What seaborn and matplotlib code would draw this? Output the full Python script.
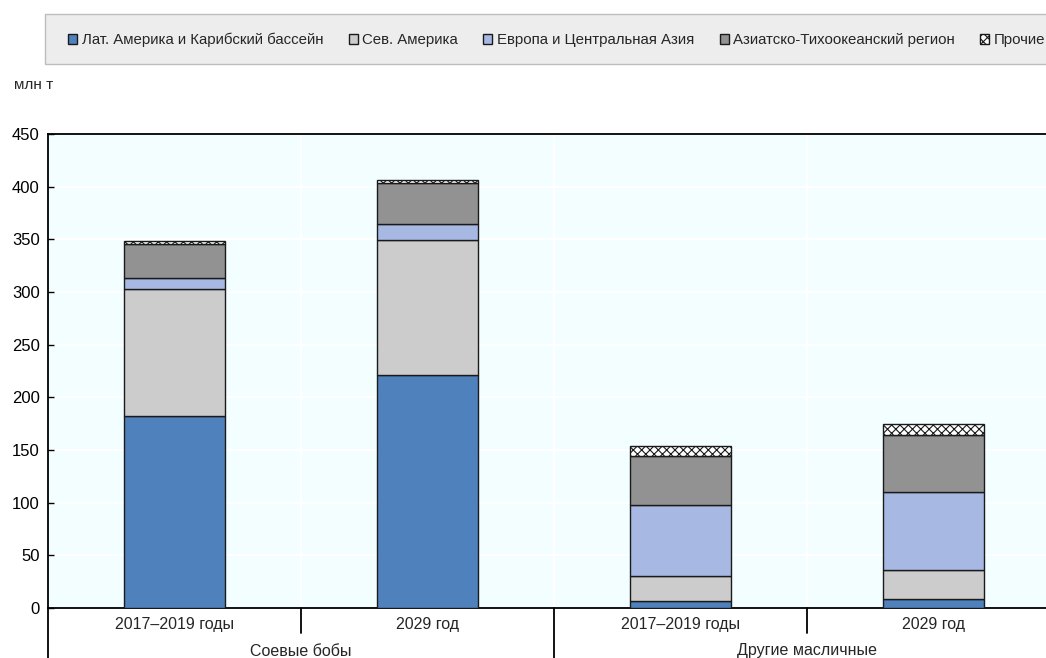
import matplotlib
matplotlib.use("Agg")
import matplotlib.pyplot as plt
import matplotlib.patches as mpatches
import matplotlib.transforms as mtransforms
import pandas as pd
import seaborn as sns

groups = ["Соевые бобы", "Соевые бобы", "Другие масличные", "Другие масличные"]
periods = ["2017–2019 годы", "2029 год", "2017–2019 годы", "2029 год"]
keys = ["soy_base", "soy_2029", "oth_base", "oth_2029"]

series_names = [
    "Лат. Америка и Карибский бассейн",
    "Сев. Америка",
    "Европа и Центральная Азия",
    "Азиатско-Тихоокеанский регион",
    "Прочие",
]
latam = [182.3, 221.2, 6.6, 8.5]
north_america = [120.6, 128.2, 23.8, 27.5]
europe_ca = [10.4, 15.2, 67.4, 74.0]
asia_pacific = [32.3, 38.9, 46.5, 54.2]
other = [2.8, 2.8, 9.5, 10.5]

values = [latam, north_america, europe_ca, asia_pacific, other]
colors = ["#4F81BD", "#CCCCCC", "#A7B9E3", "#929292", "#FFFFFF"]
hatches = [None, None, None, None, "xxxx"]

sns.set_style("white")
plt.rcParams["font.family"] = ["Liberation Sans Narrow", "Liberation Sans", "DejaVu Sans"]
plt.rcParams["hatch.linewidth"] = 0.8

fig = plt.figure(figsize=(10.46, 6.58), dpi=100)
W, H = 1046, 658
ax = fig.add_axes([48 / W, 50 / H, 1012 / W, 474 / H])
ax.set_facecolor("#F2FEFF")

bottom = [0.0] * 4
for name, vals, col, hat in zip(series_names, values, colors, hatches):
    df = pd.DataFrame({"key": keys, "value": vals})
    sns.barplot(data=df, x="key", y="value", order=keys, color=col,
                bottom=bottom, width=0.4, edgecolor="#1a1a1a", linewidth=1.0,
                hatch=hat, saturation=1, ax=ax, zorder=3)
    bottom = [b + v for b, v in zip(bottom, vals)]

ax.set_xlim(-0.5, 3.5)
ax.set_ylim(0, 450)
ax.set_yticks(range(0, 451, 50))
ax.set_xticks([])
ax.set_xlabel("")
ax.set_ylabel("")
ax.tick_params(axis="y", direction="in", length=4, width=1, labelsize=12,
               pad=6, colors="black", left=True)
ax.grid(axis="y", color="white", linewidth=1.5, zorder=0)
for xb in [0.5, 1.5, 2.5]:
    ax.axvline(xb, color="white", linewidth=1.5, zorder=0)
for side in ["left", "bottom", "top"]:
    ax.spines[side].set_visible(True)
    ax.spines[side].set_color("black")
    ax.spines[side].set_linewidth(1.3)
ax.spines["right"].set_visible(False)

# two-level category axis below the plot
trans = mtransforms.blended_transform_factory(ax.transData, ax.transAxes)
ax_h = 474.0
for xb in [0.5, 2.5]:
    ax.plot([xb, xb], [0, -25 / ax_h], color="black", lw=1.3, transform=trans, clip_on=False)
for xb in [-0.5, 1.5, 3.5]:
    ax.plot([xb, xb], [0, -52 / ax_h], color="black", lw=1.3, transform=trans, clip_on=False)
for i, p in enumerate(periods):
    ax.text(i, -17 / ax_h, p, transform=trans, ha="center", va="center", fontsize=11.5)
for gx, g in [(0.5, groups[0]), (2.5, groups[2])]:
    ax.text(gx, -43 / ax_h, g, transform=trans, ha="center", va="center", fontsize=11.5)

fig.text(14 / W, 1 - 85 / H, "млн т", ha="left", va="center", fontsize=11)

# legend band
fig.patches.append(mpatches.Rectangle((45 / W, 1 - 64 / H), 1.0, 50 / H,
                                      transform=fig.transFigure, facecolor="#EDEDED",
                                      edgecolor="#BDBDBD", linewidth=1.0, zorder=0))
handles = [mpatches.Patch(facecolor=c, edgecolor="#1a1a1a", hatch=h, linewidth=1.0)
           for c, h in zip(colors, hatches)]
fig.legend(handles, series_names, loc="center left", bbox_to_anchor=(68 / W, 1 - 40 / H),
           ncol=5, frameon=False, fontsize=10.8, handlelength=0.6, handleheight=0.6,
           handletextpad=0.3, columnspacing=1.7, borderaxespad=0, borderpad=0)

fig.savefig("out.png", dpi=100)
